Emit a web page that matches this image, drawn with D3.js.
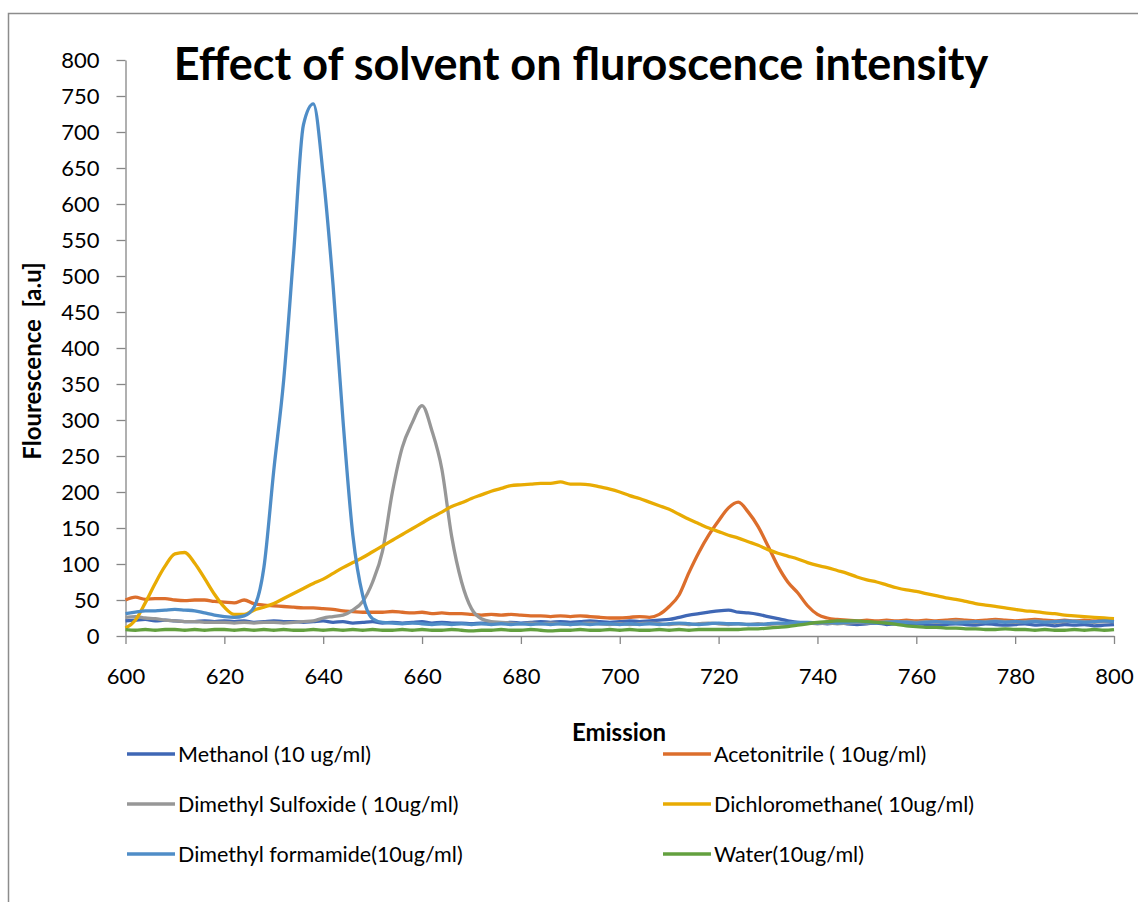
<!DOCTYPE html>
<html>
<head>
<meta charset="utf-8">
<script src="https://cdn.jsdelivr.net/npm/d3@7"></script>
<style>
  html, body { margin: 0; padding: 0; background: #fff; }
  svg { display: block; font-family: Lato, "Open Sans", sans-serif; }
</style>
</head>
<body>
<div id="chart"></div>
<script>
// Emission wavelengths, every 2 nm from 600 to 800
const wavelengths = d3.range(600, 801, 2);

const seriesNames = [
    "Methanol (10 ug/ml)",
    "Acetonitrile ( 10ug/ml)",
    "Dimethyl Sulfoxide ( 10ug/ml)",
    "Dichloromethane( 10ug/ml)",
    "Dimethyl formamide(10ug/ml)",
    "Water(10ug/ml)"
];

const methanol = [
    21, 22, 23, 21, 22, 21, 20, 20, 21, 20,
    21, 20, 21, 19, 20, 21, 20, 20, 19, 20,
    21, 19, 20, 18, 19, 20, 18, 19, 18, 19,
    20, 18, 19, 18, 18, 17, 18, 17, 18, 19,
    18, 19, 20, 19, 20, 19, 20, 21, 20, 19,
    20, 21, 20, 21, 22, 23, 26, 29, 31, 33,
    35, 36, 33, 32, 30, 27, 24, 21, 19, 18,
    18, 17, 18, 17, 16, 17, 18, 16, 17, 16,
    17, 16, 15, 16, 17, 16, 15, 17, 16, 15,
    16, 17, 15, 16, 14, 16, 15, 16, 14, 15,
    16
];

const acetonitrile = [
    50, 54, 51, 52, 52, 50, 49, 50, 50, 48,
    47, 46, 50, 45, 43, 42, 41, 40, 39, 39,
    38, 37, 35, 34, 33, 33, 33, 34, 33, 32,
    33, 31, 32, 31, 31, 30, 29, 30, 29, 30,
    29, 28, 28, 27, 28, 27, 28, 27, 26, 25,
    25, 26, 27, 26, 30, 41, 57, 88, 116, 140,
    160, 178, 186, 172, 152, 125, 97, 75, 60, 42,
    30, 25, 23, 22, 21, 22, 21, 22, 21, 22,
    21, 22, 21, 22, 23, 22, 21, 22, 23, 22,
    21, 22, 23, 22, 21, 22, 21, 22, 21, 22,
    22
];

const dmso = [
    26, 27, 25, 24, 22, 21, 20, 20, 19, 19,
    19, 18, 19, 18, 19, 19, 18, 19, 20, 21,
    25, 27, 29, 36, 48, 75, 118, 200, 262, 296,
    320, 285, 232, 138, 75, 38, 24, 20, 19, 18,
    17, 18, 17, 18, 17, 16, 17, 18, 17, 16,
    17, 16, 17, 18, 17, 16, 17, 16, 17, 18,
    17, 16, 17, 16, 17, 16, 17, 16, 17, 18,
    17, 18, 17, 18, 19, 18, 19, 20, 19, 20,
    19, 20, 19, 20, 21, 20, 19, 20, 21, 20,
    19, 20, 21, 20, 19, 20, 21, 20, 19, 20,
    20
];

const dichloromethane = [
    11, 22, 46, 73, 97, 114, 116, 101, 80, 58,
    40, 30, 30, 36, 40, 45, 52, 59, 66, 73,
    79, 87, 95, 102, 109, 117, 125, 133, 141, 149,
    157, 165, 172, 180, 185, 191, 196, 201, 205, 209,
    210, 211, 212, 212, 214, 211, 211, 210, 207, 204,
    200, 195, 191, 186, 181, 176, 169, 162, 156, 150,
    145, 140, 136, 131, 126, 120, 115, 111, 107, 102,
    98, 95, 91, 87, 82, 78, 75, 71, 67, 64,
    62, 59, 56, 53, 51, 48, 45, 43, 41, 39,
    37, 35, 34, 32, 31, 29, 28, 27, 26, 25,
    24
];

const dmf = [
    31, 33, 35, 35, 36, 37, 36, 35, 32, 29,
    27, 26, 28, 40, 95, 230, 355, 530, 710, 739,
    640, 487, 300, 140, 56, 24, 19, 18, 17, 18,
    17, 16, 17, 16, 17, 16, 17, 16, 17, 16,
    17, 16, 17, 16, 17, 16, 17, 16, 17, 17,
    16, 17, 16, 17, 16, 17, 18, 17, 16, 17,
    18, 17, 17, 16, 16, 17, 18, 18, 19, 19,
    18, 19, 18, 19, 20, 19, 18, 19, 20, 19,
    18, 19, 20, 19, 18, 19, 20, 19, 20, 19,
    20, 19, 20, 19, 20, 21, 20, 19, 20, 21,
    20
];

const water = [
    9, 8, 9, 8, 9, 9, 8, 9, 8, 9,
    9, 8, 9, 8, 9, 8, 9, 8, 8, 9,
    8, 9, 8, 9, 8, 9, 8, 8, 9, 8,
    9, 8, 8, 9, 8, 7, 8, 8, 9, 8,
    8, 9, 8, 7, 8, 8, 9, 8, 8, 9,
    8, 9, 8, 8, 9, 8, 9, 8, 9, 9,
    9, 9, 9, 10, 10, 11, 12, 13, 15, 17,
    19, 20, 21, 21, 21, 20, 19, 18, 16, 14,
    13, 12, 12, 11, 11, 10, 10, 9, 9, 10,
    9, 9, 8, 9, 8, 8, 9, 8, 9, 8,
    9
];

const seriesValues = [methanol, acetonitrile, dmso, dichloromethane, dmf, water];
const seriesColors = ["#3f67b5", "#dc6e2c", "#979797", "#e8ab03", "#4f8dc7", "#63a03f"];

const yTicks = d3.range(0, 801, 50);
const xTicks = d3.range(600, 801, 20);

const WIDTH = 1138,
    HEIGHT = 902,
    AXIS_COLOR = "#868686";

let svg = d3.select("#chart")
    .append("svg")
    .attr("width", WIDTH)
    .attr("height", HEIGHT);

// chart frame (only top and left edges fall inside the picture)
svg.append("rect")
    .attr("x", 8.5)
    .attr("y", 13.5)
    .attr("width", WIDTH + 20)
    .attr("height", HEIGHT + 20)
    .attr("fill", "none")
    .attr("stroke", "#8c8c8c")
    .attr("stroke-width", 1.5);

let x = d3.scaleLinear().domain([600, 800]).range([125.5, 1114]);
let y = d3.scaleLinear().domain([0, 800]).range([636, 60]);

// axes
let yAxis = svg.append("g")
    .attr("transform", "translate(125.5,0)")
    .call(d3.axisLeft(y).tickValues(yTicks).tickSize(9).tickSizeOuter(0).tickPadding(17));

let xAxis = svg.append("g")
    .attr("transform", "translate(0,636)")
    .call(d3.axisBottom(x).tickValues(xTicks).tickSize(8).tickSizeOuter(0).tickPadding(24));

[xAxis, yAxis].forEach(function (g) {
    g.selectAll("path, line").attr("stroke", AXIS_COLOR).attr("stroke-width", 1.3);
    g.selectAll("text")
        .attr("fill", "#000")
        .style("font-family", "Lato, sans-serif")
        .style("font-size", "22px");
});

// lines
let line = d3.line()
    .x(function (d) { return x(d[0]); })
    .y(function (d) { return y(d[1]); })
    .curve(d3.curveMonotoneX);

seriesValues.forEach(function (vals, i) {
    let pts = wavelengths.map(function (w, j) { return [w, vals[j]]; });
    svg.append("path")
        .datum(pts)
        .attr("fill", "none")
        .attr("stroke", seriesColors[i])
        .attr("stroke-width", 3.3)
        .attr("stroke-linejoin", "round")
        .attr("d", line);
});

// title
svg.append("text")
    .attr("x", 581)
    .attr("y", 80)
    .attr("text-anchor", "middle")
    .style("font-weight", "bold")
    .style("font-size", "45px")
    .text("Effect of solvent on fluroscence intensity");

// axis titles
svg.append("text")
    .attr("transform", "translate(41,361) rotate(-90)")
    .attr("text-anchor", "middle")
    .style("font-weight", "bold")
    .style("font-size", "24px")
    .style("white-space", "pre")
    .text("Flourescence  [a.u]");

svg.append("text")
    .attr("x", 619)
    .attr("y", 741)
    .attr("text-anchor", "middle")
    .style("font-weight", "bold")
    .style("font-size", "24px")
    .text("Emission");

// legend: two columns, three rows
let legend = svg.append("g");
seriesNames.forEach(function (name, i) {
    let col = i % 2,
        row = Math.floor(i / 2),
        lx = col === 0 ? 127 : 663,
        ly = 754 + row * 50;
    let item = legend.append("g").attr("transform", "translate(" + lx + "," + ly + ")");
    item.append("line")
        .attr("x1", 0).attr("x2", 48)
        .attr("y1", 0).attr("y2", 0)
        .attr("stroke", seriesColors[i])
        .attr("stroke-width", 3.3);
    item.append("text")
        .attr("x", 51)
        .attr("y", 0)
        .attr("dy", "0.35em")
        .style("font-size", "21.5px")
        .style("white-space", "pre")
        .text(name);
});
</script>
</body>
</html>
